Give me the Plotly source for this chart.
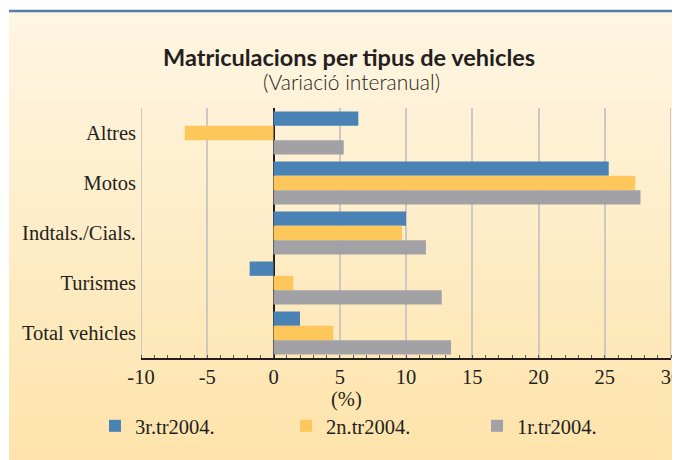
import plotly.graph_objects as go

categories = ["Altres", "Motos", "Indtals./Cials.", "Turismes", "Total vehicles"]
series_names = ["3r.tr2004.", "2n.tr2004.", "1r.tr2004."]
q3_2004 = [6.4, 25.3, 10.0, -1.8, 2.0]
q2_2004 = [-6.7, 27.3, 9.7, 1.5, 4.5]
q1_2004 = [5.3, 27.7, 11.5, 12.7, 13.4]
x_ticks = [-10, -5, 0, 5, 10, 15, 20, 25, 30]

colors = ["#4a82b6", "#fdc75c", "#a2a2a6"]

# the page body adds an 8px margin; work in screen pixels and convert
OFF = 8
W, H = 680 - OFF, 460 - OFF
L, R, T, B = 141 - OFF, 680 - 671, 108 - OFF, 460 - 358
pw, ph = W - L - R, H - T - B


def px2x(px):
    return (px - OFF - L) / pw


def py2y(py):
    return (H - B - (py - OFF)) / ph


fig = go.Figure()
for name, vals, col in zip(series_names, [q3_2004, q2_2004, q1_2004], colors):
    fig.add_trace(go.Bar(y=categories, x=vals, orientation="h", name=name,
                         marker=dict(color=col, line=dict(width=0))))

# background gradient bands
shapes = []
n = 30
top_c = (254, 245, 226)
bot_c = (254, 228, 172)
y0p, y1p = 12, 461
for i in range(n):
    t = i / (n - 1)
    c = tuple(round(top_c[k] + (bot_c[k] - top_c[k]) * t) for k in range(3))
    ya = y0p + (y1p - y0p) * i / n
    yb = y0p + (y1p - y0p) * (i + 1) / n + 1
    shapes.append(dict(type="rect", xref="paper", yref="paper",
                       x0=px2x(9), x1=px2x(682), y0=py2y(ya), y1=py2y(min(yb, 462)),
                       fillcolor="rgb(%d,%d,%d)" % c, line=dict(width=0), layer="below"))
shapes.append(dict(type="line", xref="paper", yref="paper",
                   x0=px2x(9), x1=px2x(682), y0=py2y(11), y1=py2y(11),
                   line=dict(color="#4f7fa6", width=2.5), layer="above"))
# gridlines at the two ends of the value axis
for xv in (x_ticks[0], x_ticks[-1]):
    shapes.append(dict(type="line", xref="x", yref="paper", x0=xv, x1=xv, y0=0, y1=1,
                       line=dict(color="#cdc9c2", width=2), layer="below"))

serif = "Liberation Serif"
fs = 20.5
fig.update_layout(
    width=W, height=H,
    margin=dict(l=L, r=R, t=T, b=B, autoexpand=False),
    paper_bgcolor="white",
    plot_bgcolor="rgba(0,0,0,0)",
    barmode="group", bargap=0.14, bargroupgap=0,
    shapes=shapes,
    showlegend=True,
    legend=dict(orientation="h", x=px2x(95), y=py2y(426), xanchor="left", yanchor="middle",
                font=dict(family=serif, size=fs, color="#231f20"),
                entrywidth=146, entrywidthmode="pixels", bgcolor="rgba(0,0,0,0)",
                traceorder="normal"),
    xaxis=dict(range=[-10, 30], tickvals=x_ticks, ticktext=[str(v) for v in x_ticks],
               showgrid=True, gridcolor="#cdc9c2", gridwidth=2,
               zeroline=True, zerolinecolor="#231f20", zerolinewidth=1.5,
               showline=True, linecolor="#231f20", linewidth=1.5,
               ticks="", tickfont=dict(family=serif, size=fs, color="#231f20"),
               ticklabeloverflow="allow",
               minor=dict(dtick=1, ticks="inside", ticklen=3, tickcolor="#555", showgrid=False),
               automargin=False, fixedrange=True),
    yaxis=dict(autorange="reversed", showgrid=False, zeroline=False, showline=False,
               ticks="", tickfont=dict(family=serif, size=fs, color="#231f20"),
               ticklabelstandoff=4, automargin=False),
    annotations=[
        dict(text="<b>Matriculacions per tipus de vehicles</b>", xref="paper", yref="paper",
             x=px2x(349), y=py2y(57), xanchor="center", yanchor="middle", showarrow=False,
             font=dict(family="Lato", size=23.5, color="#231f20")),
        dict(text="(Variació interanual)", xref="paper", yref="paper",
             x=px2x(351), y=py2y(82), xanchor="center", yanchor="middle", showarrow=False,
             font=dict(family="Lato", size=21, weight=300, color="#231f20")),
        dict(text="(%)", xref="paper", yref="paper",
             x=px2x(346), y=py2y(399), xanchor="center", yanchor="middle", showarrow=False,
             font=dict(family=serif, size=fs, color="#231f20")),
    ],
)

fig.write_html("out.html")
